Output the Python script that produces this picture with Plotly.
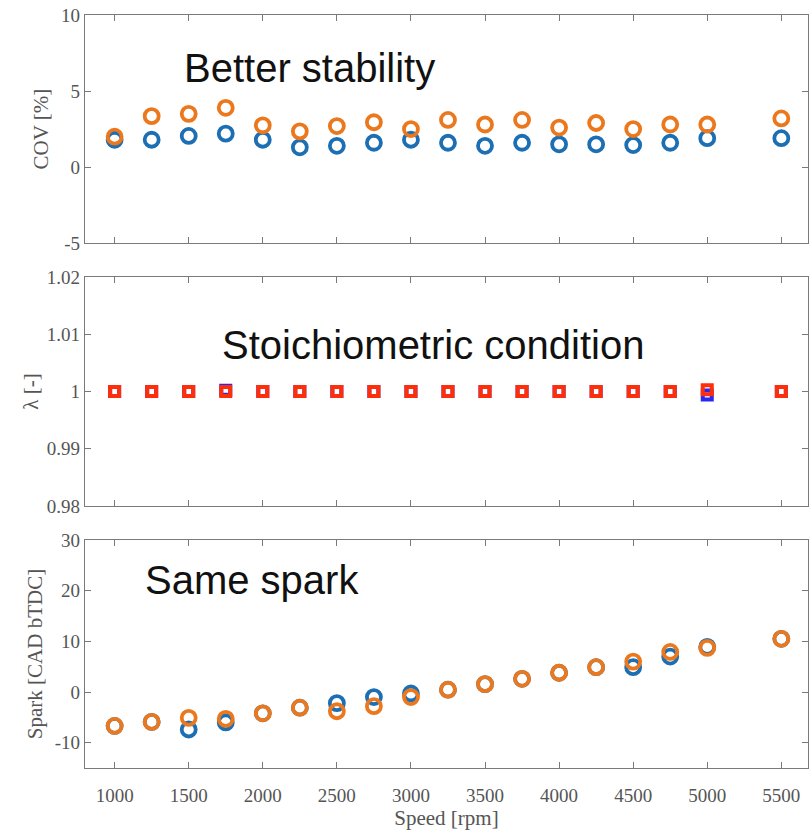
import plotly.graph_objects as go
from plotly.subplots import make_subplots

speed = [1000, 1250, 1500, 1750, 2000, 2250, 2500, 2750, 3000, 3250, 3500,
         3750, 4000, 4250, 4500, 4750, 5000, 5500]

cov_blue = [1.8, 1.8, 2.05, 2.2, 1.8, 1.3, 1.4, 1.6, 1.8, 1.6, 1.4,
            1.6, 1.5, 1.5, 1.45, 1.6, 1.9, 1.9]
cov_orange = [2.0, 3.35, 3.5, 3.9, 2.75, 2.35, 2.7, 2.95, 2.5, 3.1, 2.8,
              3.1, 2.6, 2.9, 2.5, 2.8, 2.8, 3.2]

lam_blue = [1.0, 1.0, 1.0, 1.0002, 1.0, 1.0, 1.0, 1.0, 1.0, 1.0, 1.0,
            1.0, 1.0, 1.0, 1.0, 1.0, 0.9994, 1.0]
lam_red = [1.0, 1.0, 1.0, 1.0, 1.0, 1.0, 1.0, 1.0, 1.0, 1.0, 1.0,
           1.0, 1.0, 1.0, 1.0, 1.0, 1.0003, 1.0]

spark_blue = [-6.7, -5.9, -7.4, -6.0, -4.2, -3.1, -2.2, -1.0, -0.3, 0.45, 1.55,
              2.6, 3.8, 4.9, 4.9, 7.0, 8.9, 10.5]
spark_orange = [-6.7, -5.9, -5.1, -5.3, -4.2, -3.1, -3.8, -2.8, -1.0, 0.45, 1.55,
                2.6, 3.8, 4.9, 6.0, 7.9, 8.7, 10.5]

xtick_vals = [1000, 1500, 2000, 2500, 3000, 3500, 4000, 4500, 5000, 5500]
cov_ticks = [-5, 0, 5, 10]
cov_ticktext = ["-5", "0", "5", "10"]
lam_ticks = [0.98, 0.99, 1.0, 1.01, 1.02]
lam_ticktext = ["0.98", "0.99", "1", "1.01", "1.02"]
spark_ticks = [-10, 0, 10, 20, 30]
spark_ticktext = ["-10", "0", "10", "20", "30"]

BLUE = "#1C6FB3"
ORANGE = "#EC781E"

fig = make_subplots(rows=3, cols=1, shared_xaxes=False, vertical_spacing=0.045)

circ = dict(symbol="circle-open", size=14, line=dict(width=3.8))
fig.add_trace(go.Scatter(x=speed, y=cov_blue, mode="markers",
                         marker=dict(circ, color=BLUE)), row=1, col=1)
fig.add_trace(go.Scatter(x=speed, y=cov_orange, mode="markers",
                         marker=dict(circ, color=ORANGE)), row=1, col=1)

sq = dict(symbol="square-open", size=9, line=dict(width=4))
fig.add_trace(go.Scatter(x=speed, y=lam_blue, mode="markers",
                         marker=dict(sq, color="#2828F5")), row=2, col=1)
fig.add_trace(go.Scatter(x=speed, y=lam_red, mode="markers",
                         marker=dict(sq, color="#FF2E0A")), row=2, col=1)

fig.add_trace(go.Scatter(x=speed, y=spark_blue, mode="markers",
                         marker=dict(circ, color=BLUE)), row=3, col=1)
fig.add_trace(go.Scatter(x=speed, y=spark_orange, mode="markers",
                         marker=dict(circ, color=ORANGE)), row=3, col=1)

axcol = "#7a7a7a"
tickfont = dict(family="Liberation Serif", size=19, color="#555555")
titlefont = dict(family="Liberation Serif", size=21, color="#555555")
common = dict(showline=True, linecolor=axcol, linewidth=1.3, mirror="ticks",
              ticks="inside", ticklen=6, tickcolor=axcol, showgrid=False,
              zeroline=False, tickfont=tickfont)

for r in (1, 2, 3):
    fig.update_xaxes(common, range=[800, 5680], tickvals=xtick_vals,
                     showticklabels=(r == 3), row=r, col=1)

fig.update_xaxes(ticklabelstandoff=10,
                 title=dict(text="Speed [rpm]", font=titlefont, standoff=2),
                 row=3, col=1)

fig.update_yaxes(common, range=[-5, 10], tickvals=cov_ticks, ticktext=cov_ticktext,
                 title=dict(text="COV [%]", font=titlefont, standoff=6),
                 row=1, col=1)
fig.update_yaxes(common, range=[0.98, 1.02], tickvals=lam_ticks, ticktext=lam_ticktext,
                 title=dict(text="λ [-]", font=titlefont, standoff=2),
                 row=2, col=1)
fig.update_yaxes(common, range=[-15, 30], tickvals=spark_ticks, ticktext=spark_ticktext,
                 title=dict(text="Spark [CAD bTDC]", font=titlefont, standoff=6),
                 row=3, col=1)

fig.update_layout(
    yaxis=dict(domain=[0.697, 1.0]),
    yaxis2=dict(domain=[0.348, 0.652]),
    yaxis3=dict(domain=[0.0, 0.3028]),
)

afont = dict(family="Liberation Sans", size=40, color="#111111")
fig.add_annotation(x=2318, y=6.5, xref="x", yref="y", text="Better stability",
                   showarrow=False, font=afont)
fig.add_annotation(x=3148, y=1.0081, xref="x2", yref="y2", text="Stoichiometric condition",
                   showarrow=False, font=afont)
fig.add_annotation(x=1927, y=22.1, xref="x3", yref="y3", text="Same spark",
                   showarrow=False, font=afont)

fig.update_layout(width=810, height=834, showlegend=False,
                  paper_bgcolor="white", plot_bgcolor="white",
                  margin=dict(l=85, r=2, t=15, b=66))

fig.write_html("out.html")
